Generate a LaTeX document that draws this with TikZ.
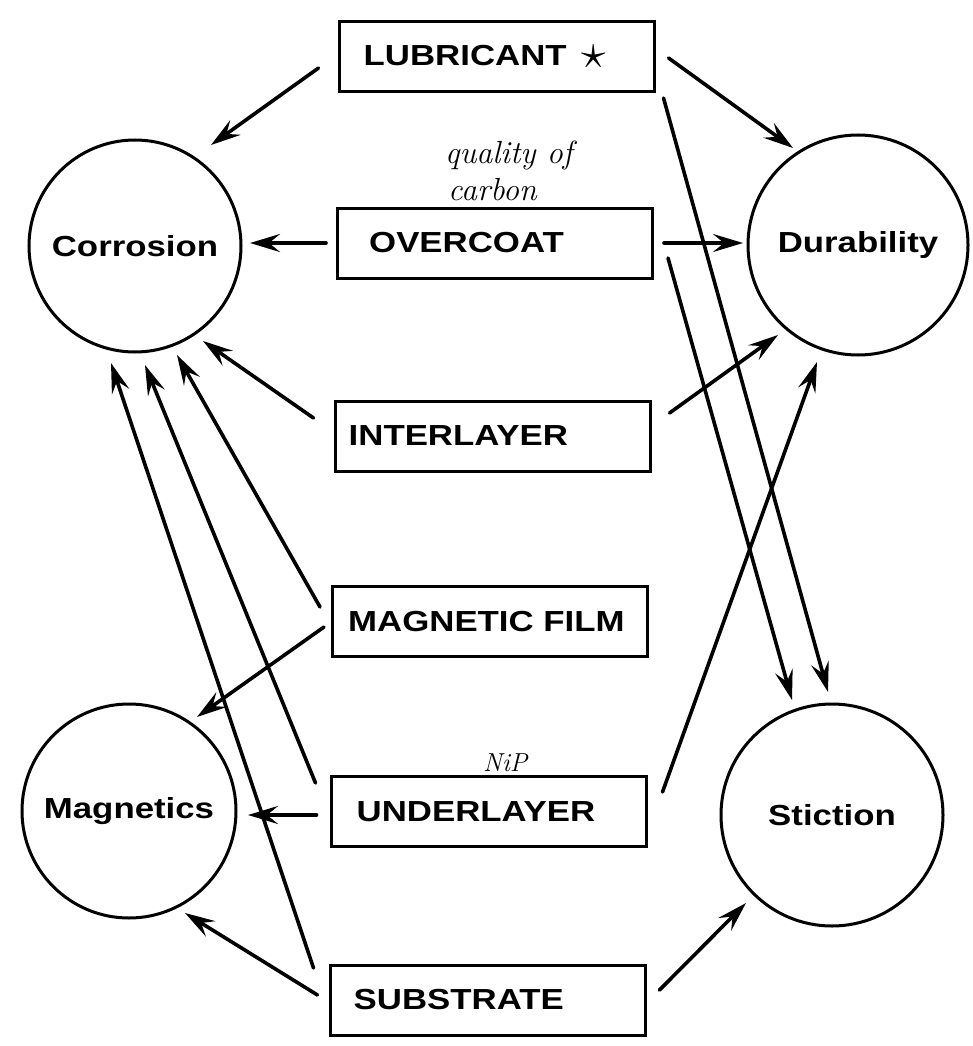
\documentclass[tikz,border=0pt]{standalone}
\usepackage{fontspec}
\newfontfamily\lblfont{Liberation Sans Bold}[FakeStretch=1.2]
\usetikzlibrary{arrows.meta,calc}
\begin{document}
\begin{tikzpicture}[x=1pt,y=-1pt,
  box/.style={draw, line width=3pt, minimum width=315pt, minimum height=70pt, inner sep=0pt},
  blob/.style={draw, circle, line width=3pt, inner sep=0pt, font=\lblfont\fontsize{29}{31}\selectfont},
  lbl/.style={font=\lblfont\fontsize{29}{31}\selectfont, anchor=west, inner sep=0pt},
  arr/.style={line width=3.6pt, line cap=round, -{Stealth[length=30pt,width=18pt,inset=11pt]}},
  hand/.style={font=\itshape\fontsize{32}{34}\selectfont, inner sep=0pt, anchor=base west}]
\useasboundingbox (0,0) rectangle (972,1046);

% circles
\node[blob, minimum size=212pt] (corr) at (135,246) {Corrosion};
\node[blob, minimum size=220pt] (dur) at (858,245) {Durability};
\node[blob, minimum size=214pt] (magn) at (129,811) {Magnetics};
\node[blob, minimum size=222pt] (sti) at (832,815) {Stiction};

% boxes
\node[box] (lub) at (496.5,56.5) {};
\node[box] (over) at (495,243) {};
\node[box] (inter) at (492.5,436) {};
\node[box] (mag) at (490,621.5) {};
\node[box] (under) at (488.5,811.5) {};
\node[box] (sub) at (487.5,1000) {};

% box labels
\node[lbl] (tlub) at ([xshift=26pt]lub.west) {LUBRICANT\enspace\raisebox{-3pt}{\scalebox{2}{$\star$}}};
\node[lbl] (tover) at ([xshift=33pt]over.west) {OVERCOAT};
\node[lbl] (tinter) at ([xshift=15pt]inter.west) {INTERLAYER};
\node[lbl] (tmag) at ([xshift=17pt]mag.west) {MAGNETIC FILM};
\node[lbl] (tunder) at ([xshift=27pt]under.west) {UNDERLAYER};
\node[lbl] (tsub) at ([xshift=25pt]sub.west) {SUBSTRATE};

% handwritten notes
\node[hand] (q1) at (445,163) {quality of};
\node[hand] (q2) at (448,200) {carbon};
\node[hand, font=\itshape\fontsize{26}{28}\selectfont] (nip) at (483,771) {NiP};

% arrows
\draw[arr] ([shift={(-19,11.5)}]lub.west) -- ([shift={(76,-101)}]corr.center);
\draw[arr] ([shift={(13,1.5)}]lub.east) -- ([shift={(-65,-97)}]dur.center);
\draw[arr] ([shift={(8,41.5)}]lub.east) -- ([shift={(-4,-123)}]sti.center);

\draw[arr] ([shift={(-10,0)}]over.west) -- ([shift={(115,-3)}]corr.center);
\draw[arr] ([shift={(10,0)}]over.east) -- ([shift={(-115,-2)}]dur.center);
\draw[arr] ([shift={(14,15)}]over.east) -- ([shift={(-40,-115)}]sti.center);

\draw[arr] ([shift={(-20,-18)}]inter.west) -- ([shift={(68,95)}]corr.center);
\draw[arr] ([shift={(18,-23)}]inter.east) -- ([shift={(-80,90)}]dur.center);

\draw[arr] ([shift={(-11,-14.5)}]mag.west) -- ([shift={(42,109)}]corr.center);
\draw[arr] ([shift={(-7,5.5)}]mag.west) -- ([shift={(68,-94)}]magn.center);

\draw[arr] ([shift={(-14,-28.5)}]under.west) -- ([shift={(10,119)}]corr.center);
\draw[arr] ([shift={(-13,3.5)}]under.west) -- ([shift={(119,4)}]magn.center);
\draw[arr] ([shift={(15,-19.5)}]under.east) -- ([shift={(-41,117)}]dur.center);

\draw[arr] ([shift={(-15,-32)}]sub.west) -- ([shift={(-24,117)}]corr.center);
\draw[arr] ([shift={(-11,-5)}]sub.west) -- ([shift={(56,102)}]magn.center);
\draw[arr] ([shift={(13,-10)}]sub.east) -- ([shift={(-86,88)}]sti.center);
\end{tikzpicture}
\end{document}
